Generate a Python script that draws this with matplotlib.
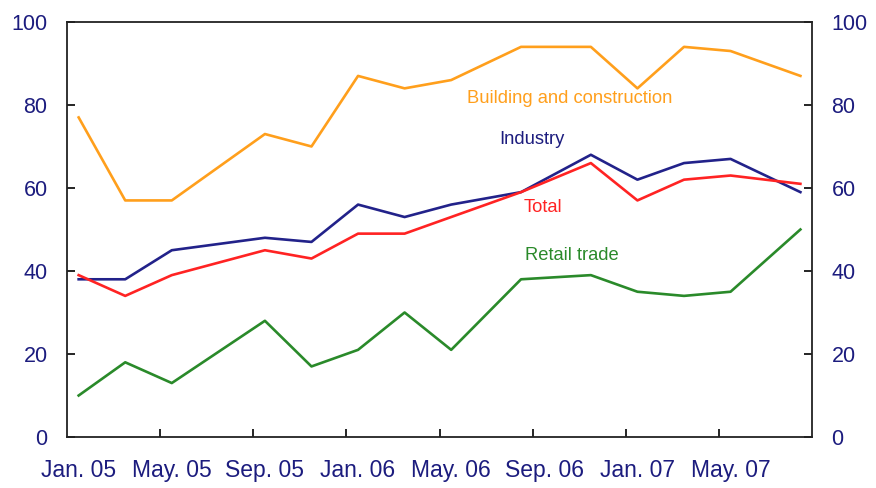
import matplotlib
matplotlib.use("Agg")
import matplotlib.pyplot as plt
import numpy as np

# Survey dates (year, month)
dates = ["Jan-05", "Mar-05", "May-05", "Sep-05", "Nov-05", "Jan-06", "Mar-06",
         "May-06", "Aug-06", "Nov-06", "Jan-07", "Mar-07", "May-07", "Aug-07"]
building = [77, 57, 57, 73, 70, 87, 84, 86, 94, 94, 84, 94, 93, 87]
industry = [38, 38, 45, 48, 47, 56, 53, 56, 59, 68, 62, 66, 67, 59]
total = [39, 34, 39, 45, 43, 49, 49, 53, 59, 66, 57, 62, 63, 61]
retail = [10, 18, 13, 28, 17, 21, 30, 21, 38, 39, 35, 34, 35, 50]

tick_labels = ["Jan. 05", "May. 05", "Sep. 05", "Jan. 06", "May. 06",
               "Sep. 06", "Jan. 07", "May. 07"]
month_names = ["Jan", "Feb", "Mar", "Apr", "May", "Jun", "Jul", "Aug",
               "Sep", "Oct", "Nov", "Dec"]


def month_index(s):
    m, y = s.split("-")
    return (int(y) - 5) * 12 + month_names.index(m) + 0.5


x = np.array([month_index(d) for d in dates])

plt.rcParams['font.family'] = ['Liberation Sans', 'DejaVu Sans']

navy = "#1c1c7e"
orange = "#ff9f1c"
blue = "#22228a"
red = "#ff2323"
green = "#2a8a2a"

fig = plt.figure(figsize=(8.76, 4.88), dpi=100)
ax = fig.add_axes([0.0765, 0.1045, 0.8505, 0.8505])

lw = 1.9
ax.plot(x, building, color=orange, lw=lw)
ax.plot(x, industry, color=blue, lw=lw)
ax.plot(x, total, color=red, lw=lw)
ax.plot(x, retail, color=green, lw=lw)

ax.set_xlim(0, 32)
ax.set_ylim(0, 100)

ax.set_yticks([0, 20, 40, 60, 80, 100])
ax.tick_params(axis='y', which='major', direction='in', length=6, width=1.2,
               left=True, right=True, labelleft=True, labelright=True,
               labelsize=15.5, labelcolor=navy, pad=14)

# x ticks at month boundaries, labels centred in the month
ax.set_xticks([4, 8, 12, 16, 20, 24, 28])
ax.set_xticklabels([])
ax.tick_params(axis='x', which='major', direction='in', length=6, width=1.2)
label_pos = [i * 4 + 0.5 for i in range(len(tick_labels))]
ax.set_xticks(label_pos, minor=True)
ax.set_xticklabels(tick_labels, minor=True)
ax.tick_params(axis='x', which='minor', length=0, labelsize=16.5,
               labelcolor=navy, pad=16)

for s in ax.spines.values():
    s.set_linewidth(1.3)
    s.set_color("#222222")

fs = 13.2
ax.text(17.2, 81.6, "Building and construction", color=orange, fontsize=fs,
        ha='left', va='center')
ax.text(18.55, 71.6, "Industry", color=navy, fontsize=fs, ha='left', va='center')
ax.text(19.6, 55.3, "Total", color=red, fontsize=fs, ha='left', va='center')
ax.text(19.68, 43.7, "Retail trade", color=green, fontsize=fs, ha='left',
        va='center')

fig.savefig("out.png", dpi=100)
